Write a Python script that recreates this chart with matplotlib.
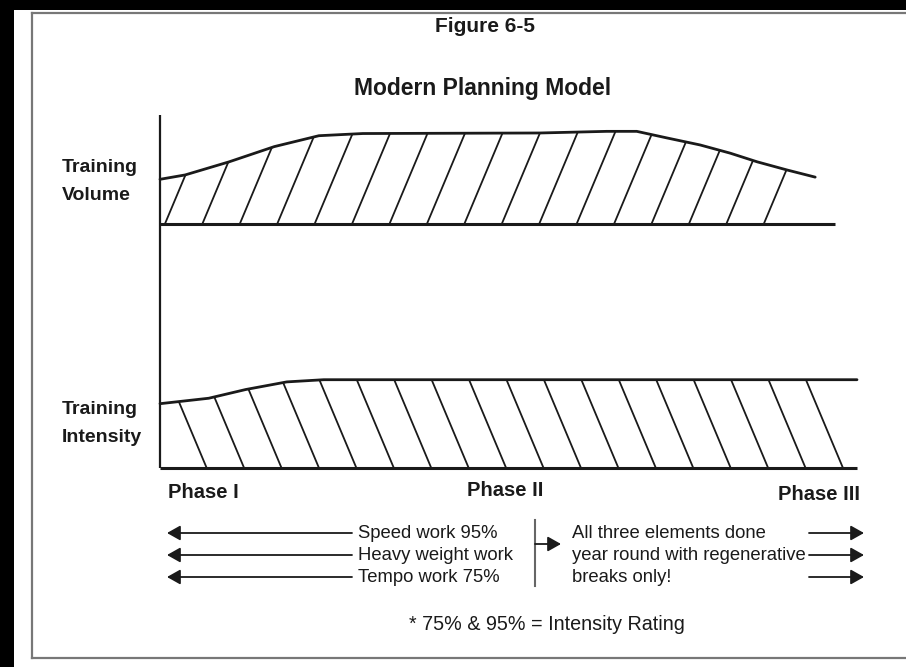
import numpy as np
import matplotlib.pyplot as plt
from matplotlib.patches import Polygon, Rectangle

# --------------------------
# Data (time across the year in %, level relative to axis unit)
# --------------------------

volume_t = [0, 3.6, 9.9, 16.4, 22.8, 29.1, 54.5, 64.1, 68.4, 72.7, 77.5, 81.8, 85.7, 90.0, 94.0]
volume_level = [0.41, 0.45, 0.57, 0.71, 0.81, 0.83, 0.835, 0.85, 0.85, 0.79, 0.725, 0.65, 0.57, 0.495, 0.43]

intensity_t = [0, 7.0, 12.3, 18.2, 23.5, 100]
intensity_level = [0.59, 0.64, 0.72, 0.79, 0.81, 0.81]

phase_labels = ["Phase I", "Phase II", "Phase III"]
left_rows = ["Speed work 95%", "Heavy weight work", "Tempo work 75%"]
right_rows = ["All three elements done", "year round with regenerative", "breaks only!"]
footnote = "* 75% & 95% = Intensity Rating"

# --------------------------
# Layout (pixels)
# --------------------------

W, H = 906, 667
X0 = 160            # x of the vertical axis
PX_T = 6.97         # pixels per % of year
PX_L = 109          # pixels per level unit
VOL_BASE = 224
INT_BASE = 468
INK = "#1a1a1a"
FONT = ["Liberation Sans", "DejaVu Sans"]

plt.rcParams["font.family"] = FONT

fig = plt.figure(figsize=(W / 100, H / 100), dpi=100)
fig.patch.set_facecolor("white")

# background / decoration axes in pixel coordinates
bg = fig.add_axes([0, 0, 1, 1])
bg.set_xlim(0, W)
bg.set_ylim(H, 0)
bg.axis("off")

# scan edges and frame
bg.add_patch(Rectangle((0, 0), 14, H, color="black", lw=0))
bg.add_patch(Rectangle((0, 0), W, 10, color="black", lw=0))
bg.plot([32, 32], [13, 658], color="#777777", lw=1.6)
bg.plot([32, W], [13, 13], color="#777777", lw=1.6)
bg.plot([32, W], [658, 658], color="#777777", lw=1.6)

# vertical axis
bg.plot([X0, X0], [115, INT_BASE], color=INK, lw=1.6, solid_capstyle="butt")


def data_axes(base_y):
    ax = fig.add_axes([X0 / W, (H - base_y) / H, 100 * PX_T / W, PX_L / H])
    ax.set_xlim(0, 100)
    ax.set_ylim(0, 1)
    ax.axis("off")
    return ax


def hatched(ax, t, level, base_end, starts, slope_px):
    t = np.asarray(t)
    level = np.asarray(level)
    verts = np.vstack([np.column_stack([t, level]), [[t[-1], 0], [0, 0]]])
    clip = Polygon(verts, closed=True, facecolor="none", edgecolor="none", transform=ax.transData)
    ax.add_patch(clip)
    dt = slope_px * PX_L / PX_T  # horizontal shift per level unit
    for s in starts:
        ln, = ax.plot([s, s + dt * 1.2], [0, 1.2], color=INK, lw=1.3, clip_on=True)
        ln.set_clip_path(clip)
    ax.plot(t, level, color=INK, lw=2.0, clip_on=False, solid_capstyle="round",
            solid_joinstyle="round")
    ax.plot([0, base_end], [0, 0], color=INK, lw=2.2, clip_on=False, solid_capstyle="butt")


ax_vol = data_axes(VOL_BASE)
hatched(ax_vol, volume_t, volume_level, 96.8, 0.7 + 5.37 * np.arange(17), 0.42)

ax_int = data_axes(INT_BASE)
hatched(ax_int, intensity_t, intensity_level, 100, 6.7 + 5.37 * np.arange(18), -0.42)

# --------------------------
# Text
# --------------------------

bg.text(485, 26, "Figure 6-5", ha="center", va="center", fontsize=15, fontweight="bold", color=INK)
bg.text(483, 88, "Modern Planning Model", ha="center", va="center", fontsize=16.5, fontweight="bold", color=INK)

for y, s in [(168, "Training"), (195, "Volume"), (410, "Training"), (437, "Intensity")]:
    bg.text(62, y, s, ha="left", va="center", fontsize=14, fontweight="bold", color=INK)

bg.text(168, 492, phase_labels[0], ha="left", va="center", fontsize=14.5, fontweight="bold", color=INK)
bg.text(505, 491, phase_labels[1], ha="center", va="center", fontsize=14.5, fontweight="bold", color=INK)
bg.text(860, 494, phase_labels[2], ha="right", va="center", fontsize=14.5, fontweight="bold", color=INK)

row_y = [533, 555, 577]
arrow_kw = dict(arrowstyle="-|>,head_length=0.8,head_width=0.45", color=INK, lw=1.3,
                shrinkA=0, shrinkB=0)
for y, s in zip(row_y, left_rows):
    bg.text(358, y, s, ha="left", va="center", fontsize=13.3, color=INK)
    bg.annotate("", xy=(167, y), xytext=(352, y), arrowprops=arrow_kw)

for y, s in zip(row_y, right_rows):
    bg.text(572, y, s, ha="left", va="center", fontsize=13.3, color=INK)
    bg.annotate("", xy=(864, y), xytext=(809, y), arrowprops=arrow_kw)

bg.plot([535, 535], [520, 586], color="#666666", lw=1.5)
bg.annotate("", xy=(561, 544), xytext=(535, 544), arrowprops=arrow_kw)

bg.text(547, 624, footnote, ha="center", va="center", fontsize=14.2, color=INK)

fig.savefig("out.png", dpi=100)
